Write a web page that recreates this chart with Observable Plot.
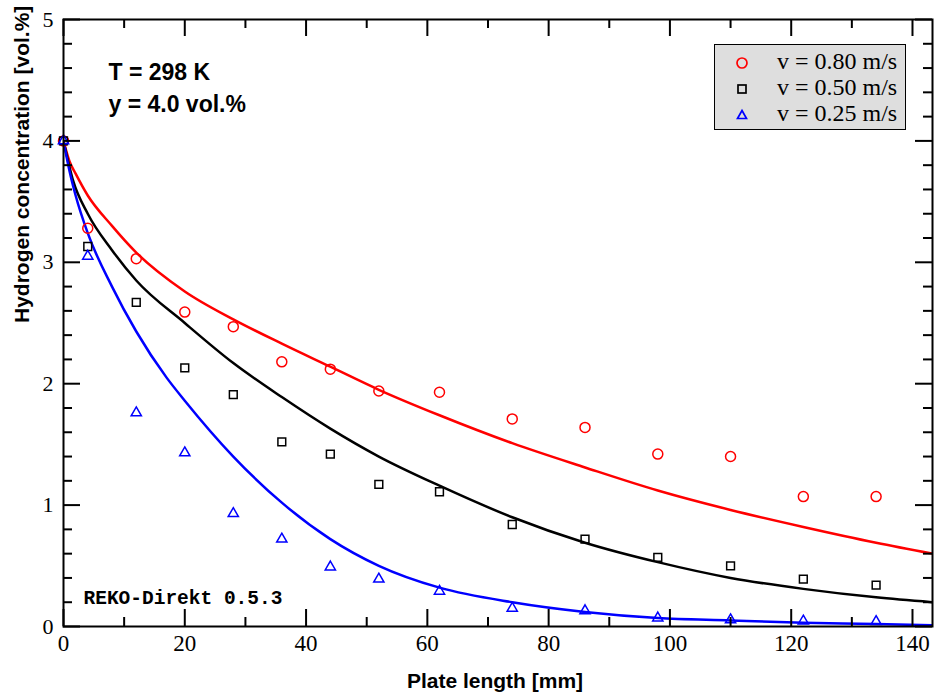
<!DOCTYPE html>
<html>
<head>
<meta charset="utf-8">
<script src="https://cdn.jsdelivr.net/npm/d3@7"></script>
<script src="https://cdn.jsdelivr.net/npm/@observablehq/plot@0.6"></script>
<style>
  body { margin: 0; background: #fff; }
  #wrap { position: relative; width: 936px; height: 693px; }
  #legend {
    position: absolute; left: 714px; top: 44px; width: 190px; height: 84px;
    background: #dedede; border: 1px solid #000; box-sizing: content-box;
    font-family: "Liberation Serif", "Times New Roman", serif; font-size: 24px;
  }
  .row { position: absolute; left: 0; height: 26px; width: 190px; }
  .row svg { position: absolute; left: 20px; top: 5px; }
  .row span { position: absolute; left: 62px; top: -2px; white-space: nowrap; line-height: 26px; }
</style>
</head>
<body>
<div id="wrap"></div>
<script>
// ---- data ----
const xMeas = [0, 4, 12, 20, 28, 36, 44, 52, 62, 74, 86, 98, 110, 122, 134];
const redMeas   = [4.00, 3.28, 3.03, 2.59, 2.47, 2.18, 2.12, 1.94, 1.93, 1.71, 1.64, 1.42, 1.40, 1.07, 1.07];
const blackMeas = [4.00, 3.13, 2.67, 2.13, 1.91, 1.52, 1.42, 1.17, 1.11, 0.84, 0.72, 0.57, 0.50, 0.39, 0.34];
const blueMeas  = [4.00, 3.05, 1.76, 1.43, 0.93, 0.72, 0.49, 0.39, 0.29, 0.15, 0.13, 0.07, 0.055, 0.045, 0.04];

const redCurveX   = [0, 1, 2, 4, 8, 12, 20, 28, 36, 44, 52, 62, 74, 86, 98, 110, 122, 134, 143.3];
const redCurveY   = [4.0, 3.83, 3.73, 3.55, 3.30, 3.08, 2.76, 2.53, 2.33, 2.14, 1.95, 1.74, 1.51, 1.31, 1.12, 0.96, 0.82, 0.69, 0.60];
const blackCurveX = [0, 1.6, 4, 8, 12, 20, 28, 36, 44, 52, 62, 74, 86, 98, 110, 122, 134, 143.3];
const blackCurveY = [4.0, 3.67, 3.40, 3.10, 2.85, 2.50, 2.17, 1.89, 1.63, 1.40, 1.16, 0.90, 0.69, 0.53, 0.40, 0.31, 0.24, 0.20];
const blueCurveX  = [0, 1, 2, 4, 8, 12, 17, 20, 28, 36, 44, 52, 62, 74, 86, 98, 110, 122, 134, 143.3];
const blueCurveY  = [4.0, 3.75, 3.55, 3.24, 2.80, 2.43, 2.05, 1.86, 1.40, 1.02, 0.72, 0.50, 0.32, 0.20, 0.12, 0.07, 0.05, 0.03, 0.02, 0.01];

const xMajor = [0, 20, 40, 60, 80, 100, 120, 140];
const xMinor = [10, 30, 50, 70, 90, 110, 130];
const yMajor = [0, 1, 2, 3, 4, 5];
const yMinor = [0.2,0.4,0.6,0.8,1.2,1.4,1.6,1.8,2.2,2.4,2.6,2.8,3.2,3.4,3.6,3.8,4.2,4.4,4.6,4.8];

const legendLabels = ["v = 0.80 m/s", "v = 0.50 m/s", "v = 0.25 m/s"];
const seriesColors = ["#ff0000", "#000000", "#0000ff"];

// ---- build ----
const pts = (xs, ys) => xs.map((x, i) => ({x, y: ys[i]}));
const W = 936, H = 693, mL = 63, mR = 4, mT = 19, mB = 67;
const pw = W - mL - mR, ph = H - mT - mB;
const serif = "Liberation Serif, Times New Roman, serif";
const sans = "Liberation Sans, Arial, sans-serif";

const chart = Plot.plot({
  width: W, height: H,
  marginLeft: mL, marginRight: mR, marginTop: mT, marginBottom: mB,
  x: {domain: [0, 143.3]},
  y: {domain: [0, 5]},
  style: {background: "white", overflow: "visible"},
  marks: [
    // curves
    Plot.line(pts(redCurveX, redCurveY), {x: "x", y: "y", stroke: seriesColors[0], strokeWidth: 2.5, curve: "monotone-x", clip: true}),
    Plot.line(pts(blackCurveX, blackCurveY), {x: "x", y: "y", stroke: seriesColors[1], strokeWidth: 2.5, curve: "monotone-x", clip: true}),
    Plot.line(pts(blueCurveX, blueCurveY), {x: "x", y: "y", stroke: seriesColors[2], strokeWidth: 2.5, curve: "monotone-x", clip: true}),
    // measurements
    Plot.dot(pts(xMeas, redMeas), {x: "x", y: "y", symbol: "circle", r: 5, stroke: seriesColors[0], strokeWidth: 1.5, fill: "none"}),
    Plot.dot(pts(xMeas, blackMeas), {x: "x", y: "y", symbol: "square", r: 4.4, stroke: seriesColors[1], strokeWidth: 1.5, fill: "none"}),
    Plot.dot(pts(xMeas, blueMeas), {x: "x", y: "y", symbol: "triangle", r: 3.8, stroke: seriesColors[2], strokeWidth: 1.5, fill: "none"}),
    // inward ticks: bottom / top
    Plot.tickX(xMajor, {x: d => d, insetTop: ph - 17, stroke: "black", strokeWidth: 2}),
    Plot.tickX(xMinor, {x: d => d, insetTop: ph - 9, stroke: "black", strokeWidth: 2}),
    Plot.tickX(xMajor, {x: d => d, insetBottom: ph - 17, stroke: "black", strokeWidth: 2}),
    Plot.tickX(xMinor, {x: d => d, insetBottom: ph - 9, stroke: "black", strokeWidth: 2}),
    // inward ticks: left / right
    Plot.tickY(yMajor, {y: d => d, insetRight: pw - 17, stroke: "black", strokeWidth: 2}),
    Plot.tickY(yMinor, {y: d => d, insetRight: pw - 9, stroke: "black", strokeWidth: 2}),
    Plot.tickY(yMajor, {y: d => d, insetLeft: pw - 17, stroke: "black", strokeWidth: 2}),
    Plot.tickY(yMinor, {y: d => d, insetLeft: pw - 9, stroke: "black", strokeWidth: 2}),
    Plot.frame({stroke: "black", strokeWidth: 2}),
    // tick labels
    Plot.axisX({ticks: xMajor, tickSize: 0, tickPadding: 8, fontSize: 23, fontFamily: serif, label: null, tickFormat: d => String(d), fill: "black"}),
    Plot.axisY({ticks: yMajor, tickSize: 0, tickPadding: 10, fontSize: 22, fontFamily: serif, label: null, tickFormat: d => String(d), fill: "black"}),
    // axis titles
    Plot.text(["Plate length [mm]"], {frameAnchor: "bottom", dy: 61, lineAnchor: "bottom", fontSize: 21, fontWeight: "bold", fontFamily: sans, fill: "black", dx: -3}),
    Plot.text(["Hydrogen concentration [vol.%]"], {frameAnchor: "left", dx: -41, rotate: -90, fontSize: 21, fontWeight: "bold", fontFamily: sans, fill: "black"}),
    // annotations
    Plot.text(["T = 298 K"], {frameAnchor: "top-left", dx: 45, dy: 60, lineAnchor: "bottom", textAnchor: "start", fontSize: 23, fontWeight: "bold", fontFamily: sans, fill: "black"}),
    Plot.text(["y = 4.0 vol.%"], {frameAnchor: "top-left", dx: 45, dy: 92, lineAnchor: "bottom", textAnchor: "start", fontSize: 23, fontWeight: "bold", fontFamily: sans, fill: "black"}),
    Plot.text(["REKO-Direkt 0.5.3"], {frameAnchor: "bottom-left", dx: 20, dy: -23, lineAnchor: "bottom", textAnchor: "start", fontSize: 19.5, fontWeight: "bold", fontFamily: "Liberation Mono, Courier New, monospace", fill: "black"})
  ]
});

const wrap = document.getElementById("wrap");
wrap.appendChild(chart);

// legend overlay
const legend = document.createElement("div");
legend.id = "legend";
const shapes = [
  c => `<circle cx="7" cy="8" r="5" fill="none" stroke="${c}" stroke-width="1.7"/>`,
  c => `<rect x="3" y="4" width="8" height="8" fill="none" stroke="${c}" stroke-width="1.7"/>`,
  c => `<path d="M7,3.5 L11.5,11.5 L2.5,11.5 Z" fill="none" stroke="${c}" stroke-width="1.7"/>`
];
legendLabels.forEach((lab, i) => {
  const row = document.createElement("div");
  row.className = "row";
  row.style.top = (5 + i * 26) + "px";
  row.innerHTML = `<svg width="14" height="16">${shapes[i](seriesColors[i])}</svg><span>${lab}</span>`;
  legend.appendChild(row);
});
wrap.appendChild(legend);
</script>
</body>
</html>
